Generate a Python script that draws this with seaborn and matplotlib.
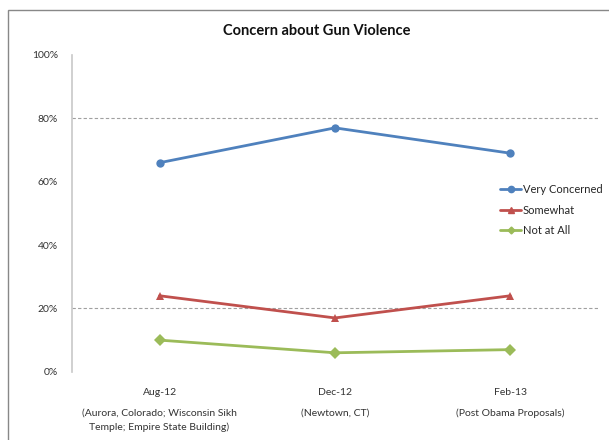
import pandas as pd
import seaborn as sns
import matplotlib.pyplot as plt
from matplotlib.patches import Rectangle
from matplotlib.ticker import FuncFormatter

sns.set_style('white')
plt.rcParams['font.family'] = ['Lato', 'DejaVu Sans']

# data
periods = ['Aug-12', 'Dec-12', 'Feb-13']
events = ['(Aurora, Colorado; Wisconsin Sikh\nTemple; Empire State Building)',
          '(Newtown, CT)',
          '(Post Obama Proposals)']
very_concerned = [66, 77, 69]
somewhat = [24, 17, 24]
not_at_all = [10, 6, 7]

series = ['Very Concerned', 'Somewhat', 'Not at All']
colors = ['#4F81BD', '#C0504D', '#9BBB59']
markers = ['o', '^', 'D']

data = pd.DataFrame({
    'period': periods * 3,
    'pos': [0, 1, 2] * 3,
    'value': very_concerned + somewhat + not_at_all,
    'series': [s for s in series for _ in periods],
})

fig = plt.figure(figsize=(6.09, 4.40), dpi=100)
ax = fig.add_axes([0.118, 0.155, 0.864, 0.72])

# figure border
fig.patches.append(Rectangle((8 / 609, -0.1), 1.2, 1 - 10 / 440 + 0.1,
                             transform=fig.transFigure, fill=False,
                             edgecolor='#888888', linewidth=1.0))

sns.lineplot(data=data, x='pos', y='value', hue='series', style='series',
             palette=colors, markers=markers, dashes=False, markersize=6,
             markeredgewidth=0, linewidth=2, ax=ax, legend=False)

ax.set_xlim(-0.5, 2.5)
ax.set_ylim(0, 100)
ax.set_yticks([0, 20, 40, 60, 80, 100])
ax.yaxis.set_major_formatter(FuncFormatter(lambda v, p: f'{int(v)}%'))
for y in [20, 80]:
    ax.axhline(y, color='#a0a0a0', linestyle=(0, (3, 2)), linewidth=0.8, zorder=0)

ax.set_xticks([0, 1, 2])
ax.set_xticklabels(periods)
ax.tick_params(axis='both', length=0, labelsize=7.5, colors='#333333')
ax.tick_params(axis='x', pad=12)
ax.tick_params(axis='y', pad=10)

for i, e in enumerate(events):
    ax.text(i, -0.115, e, transform=ax.get_xaxis_transform(), ha='center',
            va='top', fontsize=7.5, color='#333333', linespacing=1.75)

for side in ['top', 'right', 'bottom']:
    ax.spines[side].set_visible(False)
ax.spines['left'].set_color('#c8c8c8')
ax.spines['left'].set_linewidth(1.2)

ax.set_xlabel('')
ax.set_ylabel('')
fig.text(0.52, 0.93, 'Concern about Gun Violence', ha='center', va='center',
         fontsize=10.5, fontweight='bold', color='#111111')

handles = [plt.Line2D([], [], color=c, marker=m, markersize=4.5 if m != 'D' else 3.5,
                      linewidth=2) for c, m in zip(colors, markers)]
ax.legend(handles, series, loc='center left', bbox_to_anchor=(0.795, 0.51),
          frameon=False, fontsize=8, handlelength=1.9, handletextpad=0.15,
          labelspacing=0.85)

fig.savefig('out.png', dpi=100)
